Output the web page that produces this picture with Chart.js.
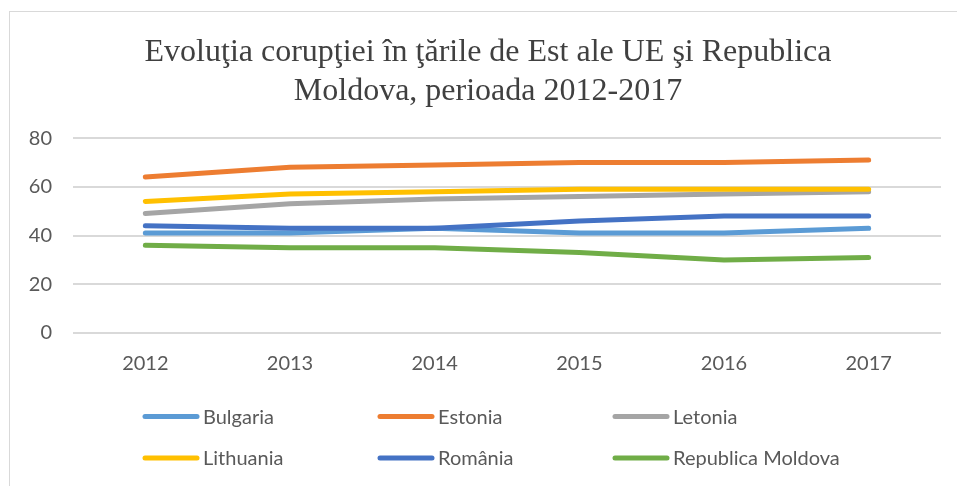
<!DOCTYPE html>
<html>
<head>
<meta charset="utf-8">
<script src="https://cdn.jsdelivr.net/npm/chart.js@4.4.1/dist/chart.umd.min.js"></script>
<style>
html, body { margin: 0; padding: 0; background: #fff; overflow: hidden; }
#wrap { position: relative; width: 957px; height: 486px; }
#frame { position: absolute; left: 9px; top: 11px; width: 1000px; height: 500px; border: 1.5px solid #d9d9d9; box-sizing: border-box; }
canvas { position: absolute; left: 0; top: 0; }
</style>
</head>
<body>
<div id="wrap">
  <div id="frame"></div>
  <canvas id="chart" width="957" height="486"></canvas>
</div>
<script>
// date: indicele de perceptie a coruptiei
const years = ['2012', '2013', '2014', '2015', '2016', '2017'];
const bulgaria  = [41, 41, 43, 41, 41, 43];
const estonia   = [64, 68, 69, 70, 70, 71];
const letonia   = [49, 53, 55, 56, 57, 58];
const lithuania = [54, 57, 58, 59, 59, 59];
const romania   = [44, 43, 43, 46, 48, 48];
const moldova   = [36, 35, 35, 33, 30, 31];
const yTicks = [0, 20, 40, 60, 80];

const seriesNames = ['Bulgaria', 'Estonia', 'Letonia', 'Lithuania', 'România', 'Republica Moldova'];
const seriesData = [bulgaria, estonia, letonia, lithuania, romania, moldova];
const colors = ['#5B9BD5', '#ED7D31', '#A5A5A5', '#FFC000', '#4472C4', '#70AD47'];

const textColor = '#595959';

// legenda pe doua randuri, trei coloane, ca in Excel
const gridLegend = {
    id: 'gridLegend',
    afterDraw(chart) {
        const ctx = chart.ctx;
        ctx.save();
        ctx.font = '20px Lato';
        ctx.textBaseline = 'middle';
        ctx.fillStyle = textColor;
        chart.data.datasets.forEach((ds, i) => {
            const col = i % 3;
            const row = Math.floor(i / 3);
            const x = 143 + col * 235;
            const y = 416.5 + row * 41.5;
            ctx.strokeStyle = ds.borderColor;
            ctx.lineWidth = 5;
            ctx.lineCap = 'round';
            ctx.beginPath();
            ctx.moveTo(x + 2, y);
            ctx.lineTo(x + 54, y);
            ctx.stroke();
            ctx.fillText(ds.label, x + 60, y + 1);
        });
        ctx.restore();
    }
};

const ctx = document.getElementById('chart');
new Chart(ctx, {
    type: 'line',
    data: {
        labels: years,
        datasets: seriesData.map((values, i) => ({
            label: seriesNames[i],
            data: values,
            borderColor: colors[i],
            backgroundColor: colors[i],
            borderWidth: 5,
            pointRadius: 0,
            borderCapStyle: 'round',
            borderJoinStyle: 'round',
            tension: 0,
            order: -i
        }))
    },
    options: {
        responsive: false,
        animation: false,
        layout: {
            padding: { top: 13, left: 19, right: 0, bottom: 91 }
        },
        plugins: {
            legend: { display: false },
            tooltip: { enabled: false },
            title: {
                display: true,
                text: ['Evoluţia corupţiei în ţările de Est ale UE şi Republica', 'Moldova, perioada 2012-2017'],
                color: '#404040',
                font: { family: 'Liberation Serif', size: 32, weight: 'normal', lineHeight: 1.22 },
                padding: { top: 20, bottom: 27 }
            }
        },
        scales: {
            x: {
                offset: true,
                grid: { display: false, drawTicks: false, offset: true },
                border: { display: false },
                ticks: { color: textColor, font: { family: 'Lato', size: 20 }, padding: 19 }
            },
            y: {
                min: 0,
                max: 80,
                afterFit(scale) { scale.width = 54; },
                afterBuildTicks(scale) { scale.ticks = yTicks.map(v => ({ value: v })); },
                grid: { color: '#d9d9d9', lineWidth: 2, drawTicks: false },
                border: { display: false },
                ticks: { color: textColor, font: { family: 'Lato', size: 20 }, padding: 21 }
            },
            // axa goala din dreapta, doar pentru spatiu
            yRight: {
                type: 'linear',
                position: 'right',
                afterFit(scale) { scale.width = 16; },
                grid: { display: false, drawTicks: false },
                border: { display: false },
                ticks: { display: false }
            }
        }
    },
    plugins: [gridLegend]
});
</script>
</body>
</html>
